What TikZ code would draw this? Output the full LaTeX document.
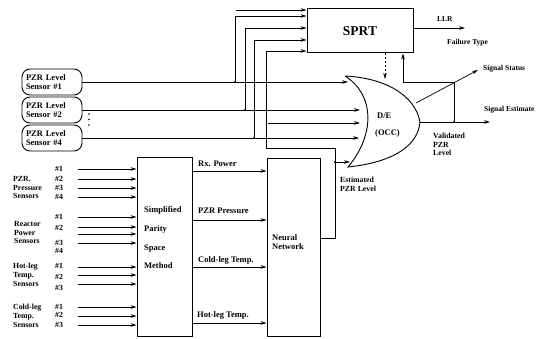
\documentclass[tikz,border=0pt]{standalone}
\usepackage{fontspec}
\setmainfont{Liberation Serif}
\usetikzlibrary{arrows.meta,calc}
\begin{document}
\begin{tikzpicture}[x=1pt,y=-1pt,
  >={Stealth[length=6pt,width=3.6pt]},
  line/.style={line width=0.7pt},
  box/.style={draw,line width=1pt,inner sep=0pt},
  sensor/.style={draw,line width=0.9pt,rounded corners=8pt,text width=52pt,inner xsep=4pt,inner ysep=0pt,minimum height=26pt,align=left,font=\fontsize{8.5}{9.5}\selectfont\bfseries},
  lbl/.style={inner sep=0pt,anchor=west,font=\fontsize{8.5}{9}\selectfont\bfseries},
  slbl/.style={inner sep=0pt,anchor=west,font=\fontsize{7.5}{8.5}\selectfont\bfseries},
  grp/.style={inner sep=0pt,anchor=west,align=left,font=\fontsize{7.8}{8.8}\selectfont\bfseries},
  dot/.style={circle,fill,inner sep=0pt,minimum size=2.4pt}
]
\useasboundingbox (0,0) rectangle (552,339);

% ---------- boxes ----------
\node[box,minimum width=106pt,minimum height=44pt,font=\fontsize{13.5}{14}\selectfont\bfseries] (sprt) at (360,31) {SPRT};
\node[box,minimum width=55pt,minimum height=179pt] (sps) at (164.5,247.5) {};
\node[lbl,align=left,font=\fontsize{8.5}{18.7}\selectfont\bfseries] (spstxt) at (144,238) {Simplified\\Parity\\Space\\Method};
\node[box,minimum width=53pt,minimum height=178pt] (nn) at (293.5,248) {};
\node[lbl,align=left,font=\fontsize{8.5}{9.5}\selectfont\bfseries] (nntxt) at (272,242) {Neural\\Network};

% ---------- sensors ----------
\node[sensor] (s1) at (52,82) {PZR Level\\Sensor \#1};
\node[sensor] (s2) at (52,110) {PZR Level\\Sensor \#2};
\node[sensor] (s4) at (52,138) {PZR Level\\Sensor \#4};
\node[dot,minimum size=1.6pt] (d1) at (89,114) {};
\node[dot,minimum size=1.6pt] (d2) at (89,119.5) {};
\node[dot,minimum size=1.6pt] (d3) at (89,125) {};

% ---------- D/E (OCC) shape ----------
\coordinate (detop) at (345,76);
\coordinate (detip) at (420,122);
\coordinate (debot) at (348,167);
\draw[line width=0.9pt] (detop) .. controls (375,95) and (375,135) .. (debot)
  .. controls (395,162) and (418,145) .. (detip)
  .. controls (415,95) and (385,78) .. (detop);
\node[lbl] (detxt) at (377,116) {D/E};
\node[lbl] (occ) at (375,133) {(OCC)};
\coordinate (de1) at (348,82);
\coordinate (de2) at (360,110);
\coordinate (de3) at (360,123);
\coordinate (de4) at (359,138);
\coordinate (de5) at (350,162);
\coordinate (dein) at (385,79);
\coordinate (destat) at (416,103);

% ---------- junctions ----------
\node[dot] (j1) at (235,82) {};
\node[dot] (j2) at (245,110) {};
\node[dot] (j4) at (254,138) {};
\node[dot] (j5) at (335,162) {};
\node[dot] (j7) at (454,122) {};
\coordinate (j6) at (454,82);
\coordinate (t0) at (236,10);
\coordinate (t3) at (268,123);
\coordinate (c1) at (335,238);
\coordinate (c2) at (335,148);
\coordinate (c3) at (266,148);

% ---------- sensor lines to D/E ----------
\draw[line,->] (s1.east) -- (de1);
\draw[line,->] (s2.east) -- (de2);
\draw[line,->] (t3) -- (de3);
\draw[line,->] (s4.east) -- (de4);
\draw[line,->] (j5) -- (de5);

% ---------- inputs to SPRT ----------
\draw[line,->] (t0) -- (t0 -| sprt.west);
\draw[line,->] (j1.center) |- ([yshift=15pt]sprt.west);
\draw[line,->] (j2.center) |- ([yshift=3pt]sprt.west);
\draw[line,->] (j4.center) |- ([yshift=-9pt]sprt.west);
\draw[line,->] ([yshift=10pt]nn.east) -- (c1) -- (c2) -- (c3) |- ([yshift=-20pt]sprt.west);

% ---------- SPRT outputs ----------
\coordinate (llr) at (465,28);
\draw[line,->] ([yshift=3pt]sprt.east) -- (llr);
\node[slbl] (llrt) at (437,19) {LLR};
\node[slbl] (ft) at (447,43) {Failure Type};
\draw[line,->,dashed,dash pattern=on 2pt off 2pt] ([xshift=25pt]sprt.south) -- (dein);

% ---------- D/E outputs ----------
\coordinate (stattip) at (478,70);
\coordinate (esttip) at (490,122);
\draw[line,->] (destat) -- (stattip);
\draw[line,->] (detip) -- (esttip);
\draw[line,->] (j7.center) -- (j6) -| ([xshift=43pt]sprt.south);
\node[slbl] (sst) at (483,69) {Signal Status};
\node[slbl] (set) at (484,110) {Signal Estimate};
\node[grp] (vpl) at (433,144.5) {Validated\\PZR\\Level};
\node[grp] (epl) at (340,184.5) {Estimated\\PZR Level};

% ---------- SPS -> NN ----------
\draw[line,->] (sps.east |- 0,171) -- (nn.west |- 0,171);
\draw[line,->] (sps.east |- 0,220) -- (nn.west |- 0,220);
\draw[line,->] (sps.east |- 0,267) -- (nn.west |- 0,267);
\draw[line,->] (sps.east |- 0,323) -- (nn.west |- 0,323);
\node[lbl] (rx) at (198,164) {Rx. Power};
\node[lbl] (pp) at (198,211) {PZR Pressure};
\node[lbl] (cl) at (198,260) {Cold-leg Temp.};
\node[lbl] (hl) at (197,315) {Hot-leg Temp.};

% ---------- sensor inputs to SPS ----------
\foreach \y in {169,179,188,197, 217,227,234,243, 267,275,284, 307,316,325}{
  \coordinate (p\y) at (78,\y);
  \draw[line,->] (p\y) -- (p\y -| sps.west);
}
\foreach \t/\y in {1/169,2/179,3/188,4/197, 1/217,2/228,3/243,4/251, 1/266,2/277,3/288, 1/307,2/315,3/325}{
  \node[grp] (n\t-\y) at (55,\y) {\#\t};
}
\node[grp] (g1) at (13,187.5) {PZR.\\Pressure\\Sensors};
\node[grp] (g2) at (14,232.5) {Reactor\\Power\\Sensors};
\node[grp] (g3) at (13,275) {Hot-leg\\Temp.\\Sensors};
\node[grp] (g4) at (13,316) {Cold-leg\\Temp.\\Sensors};
\end{tikzpicture}
\end{document}
